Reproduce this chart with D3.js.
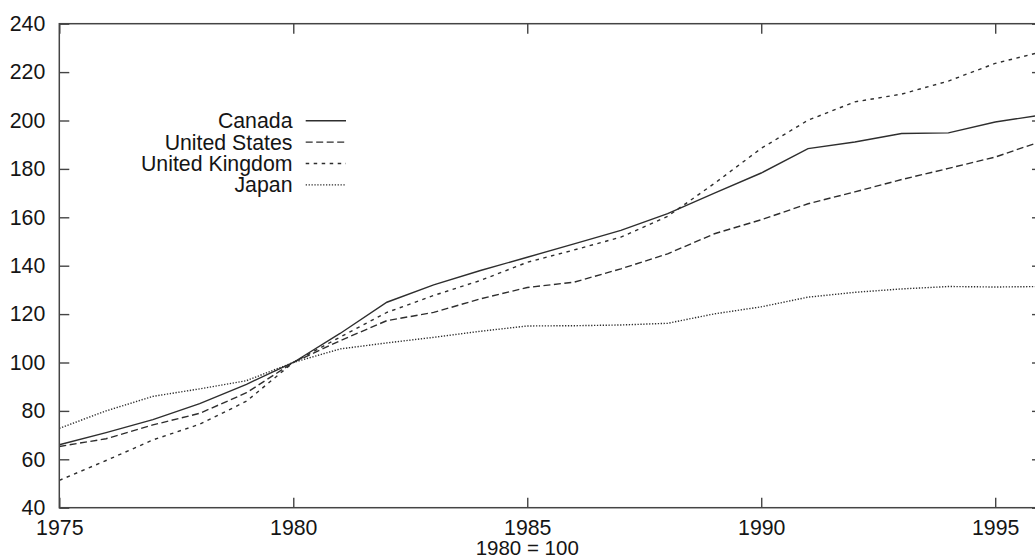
<!DOCTYPE html>
<html>
<head>
<meta charset="utf-8">
<script src="https://cdn.jsdelivr.net/npm/d3@7"></script>
<style>
  html, body { margin: 0; padding: 0; background: #fff; }
  svg { display: block; font-family: "Liberation Sans", Arial, sans-serif; }
</style>
</head>
<body>
<svg id="chart" width="1035" height="558"></svg>
<script>
// Index values, 1980 = 100
const years = d3.range(1975, 1997);
const canada = [66, 71, 76.4, 83, 91, 100, 112, 124.9, 132.1, 138, 143.5, 149, 154.6, 161.5, 170, 178.3, 188.4, 191.1, 194.6, 194.9, 199.4, 202.3];
const unitedStates = [65.3, 68.5, 74.2, 79, 87.5, 100, 109, 117.3, 120.7, 126.3, 131, 133.2, 138.7, 144.9, 153.2, 159, 165.6, 170.5, 175.6, 180.2, 184.9, 191.5];
const unitedKingdom = [51.3, 59.5, 68, 74.5, 84, 100, 110.5, 120.7, 127.7, 133.9, 141.4, 146.5, 151.8, 160.4, 174, 188.5, 200.1, 207.7, 210.9, 216.3, 223.6, 228.4];
const japan = [72.8, 80, 86, 89.1, 92.5, 100, 105.6, 108.1, 110.4, 112.9, 115.1, 115.2, 115.5, 116.2, 120.1, 123, 127, 129, 130.4, 131.4, 131.2, 131.4];

const seriesNames = ["Canada", "United States", "United Kingdom", "Japan"];
const xTicks = [1975, 1980, 1985, 1990, 1995];
const yTicks = [40, 60, 80, 100, 120, 140, 160, 180, 200, 220, 240];
const xLabel = "1980 = 100";

const series = [
  { name: seriesNames[0], values: canada, dash: null },
  { name: seriesNames[1], values: unitedStates, dash: "7,3.5" },
  { name: seriesNames[2], values: unitedKingdom, dash: "3.5,4.5" },
  { name: seriesNames[3], values: japan, dash: "1.3,1.6" }
];

const svg = d3.select("#chart");
const plotLeft = 59.3, plotTop = 23.7, plotBottom = 507.7, plotRight = 1042;

const x = d3.scaleLinear().domain([1975, 1996]).range([plotLeft, plotRight]);
const y = d3.scaleLinear().domain([40, 240]).range([plotBottom, plotTop]);

const frameColor = "#444";
const textColor = "#151515";
const fontSize = 21.3;

// Lines
const line = d3.line().x((d, i) => x(years[i])).y(d => y(d));
svg.append("g").selectAll("path").data(series).join("path")
  .attr("d", d => line(d.values))
  .attr("fill", "none")
  .attr("stroke", "#2e2e2e")
  .attr("stroke-width", 1.4)
  .attr("stroke-dasharray", d => d.dash);

// Axes with inward ticks, mirrored on the top and right
function styleAxis(g) {
  g.select(".domain").remove();
  g.selectAll(".tick line").attr("stroke", frameColor).attr("stroke-width", 1.4);
  g.selectAll(".tick text").attr("fill", textColor).attr("font-size", fontSize)
    .attr("font-family", "Liberation Sans, Arial, sans-serif");
}

svg.append("g").attr("transform", `translate(${plotLeft},0)`)
  .call(d3.axisLeft(y).tickValues(yTicks).tickSize(-10).tickPadding(14).tickFormat(d3.format("d")))
  .call(styleAxis);

svg.append("g").attr("transform", `translate(${plotRight},0)`)
  .call(d3.axisRight(y).tickValues(yTicks).tickSize(-10).tickFormat(""))
  .call(styleAxis);

svg.append("g").attr("transform", `translate(0,${plotBottom})`)
  .call(d3.axisBottom(x).tickValues(xTicks).tickSize(-10).tickPadding(12).tickFormat(d3.format("d")))
  .call(styleAxis);

svg.append("g").attr("transform", `translate(0,${plotTop})`)
  .call(d3.axisTop(x).tickValues(xTicks).tickSize(-10).tickFormat(""))
  .call(styleAxis);

// Frame
svg.append("rect")
  .attr("x", plotLeft).attr("y", plotTop)
  .attr("width", plotRight - plotLeft).attr("height", plotBottom - plotTop)
  .attr("fill", "none").attr("stroke", frameColor).attr("stroke-width", 1.5);

// Axis caption
svg.append("text")
  .attr("x", x(1985)).attr("y", 554.5)
  .attr("text-anchor", "middle")
  .attr("fill", textColor).attr("font-size", 20.5)
  .text(xLabel);

// Legend
const legend = svg.append("g");
const rowY = i => 120.7 + i * 21.4;
legend.selectAll("text").data(series).join("text")
  .attr("x", 292.5).attr("y", (d, i) => rowY(i))
  .attr("dy", "0.35em")
  .attr("text-anchor", "end")
  .attr("fill", textColor).attr("font-size", fontSize)
  .text(d => d.name);
legend.selectAll("line").data(series).join("line")
  .attr("x1", 305.7).attr("x2", 346)
  .attr("y1", (d, i) => rowY(i)).attr("y2", (d, i) => rowY(i))
  .attr("stroke", "#2e2e2e").attr("stroke-width", 1.4)
  .attr("stroke-dasharray", d => d.dash);
</script>
</body>
</html>
